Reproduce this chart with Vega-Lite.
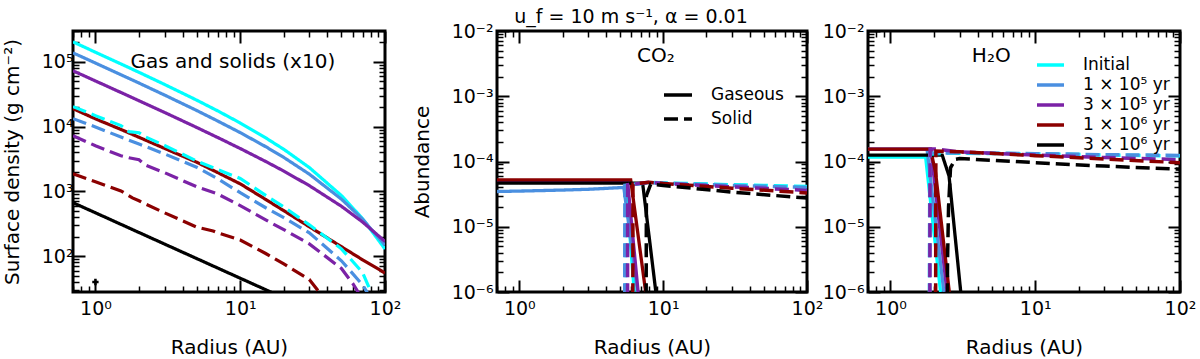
{
"$schema":"https://vega.github.io/schema/vega-lite/v6.json",
"padding":{"left":0,"top":6,"right":0,"bottom":0},
"background":"white",
"config":{
 "font":"DejaVu Sans",
 "view":{"stroke":"black","strokeWidth":3},
 "axis":{"domain":false,"grid":false,"tickColor":"black","labelFont":"DejaVu Sans","labelFontSize":19,"labelColor":"black","titleFont":"DejaVu Sans","titleFontSize":20,"titleFontWeight":"normal","titleColor":"black","labelFlush":false,"labelOverlap":false},
 "legend":{"labelFont":"DejaVu Sans","labelColor":"black"}
},
"datasets":{
"left":[
{"s":"Initial","p":"Gaseous","r":0.7,"v":204000},{"s":"Initial","p":"Gaseous","r":1,"v":141000},{"s":"Initial","p":"Gaseous","r":1.5,"v":93100},{"s":"Initial","p":"Gaseous","r":2,"v":69000},{"s":"Initial","p":"Gaseous","r":3,"v":44900},{"s":"Initial","p":"Gaseous","r":5,"v":25700},{"s":"Initial","p":"Gaseous","r":7,"v":17500},{"s":"Initial","p":"Gaseous","r":10,"v":11400},{"s":"Initial","p":"Gaseous","r":15,"v":6710},{"s":"Initial","p":"Gaseous","r":20,"v":4470},{"s":"Initial","p":"Gaseous","r":30,"v":2340},{"s":"Initial","p":"Gaseous","r":50,"v":863},{"s":"Initial","p":"Gaseous","r":70,"v":380},{"s":"Initial","p":"Gaseous","r":100,"v":129},
{"s":"1e5","p":"Gaseous","r":0.7,"v":138000},{"s":"1e5","p":"Gaseous","r":1,"v":95900},{"s":"1e5","p":"Gaseous","r":1.5,"v":63300},{"s":"1e5","p":"Gaseous","r":2,"v":47100},{"s":"1e5","p":"Gaseous","r":3,"v":30800},{"s":"1e5","p":"Gaseous","r":5,"v":17800},{"s":"1e5","p":"Gaseous","r":7,"v":12200},{"s":"1e5","p":"Gaseous","r":10,"v":8090},{"s":"1e5","p":"Gaseous","r":15,"v":4910},{"s":"1e5","p":"Gaseous","r":20,"v":3350},{"s":"1e5","p":"Gaseous","r":30,"v":1850},{"s":"1e5","p":"Gaseous","r":50,"v":760},{"s":"1e5","p":"Gaseous","r":70,"v":372},{"s":"1e5","p":"Gaseous","r":100,"v":148},
{"s":"3e5","p":"Gaseous","r":0.7,"v":72900},{"s":"3e5","p":"Gaseous","r":1,"v":50800},{"s":"3e5","p":"Gaseous","r":1.5,"v":33700},{"s":"3e5","p":"Gaseous","r":2,"v":25100},{"s":"3e5","p":"Gaseous","r":3,"v":16600},{"s":"3e5","p":"Gaseous","r":5,"v":9730},{"s":"3e5","p":"Gaseous","r":7,"v":6790},{"s":"3e5","p":"Gaseous","r":10,"v":4600},{"s":"3e5","p":"Gaseous","r":15,"v":2900},{"s":"3e5","p":"Gaseous","r":20,"v":2060},{"s":"3e5","p":"Gaseous","r":30,"v":1230},{"s":"3e5","p":"Gaseous","r":50,"v":590},{"s":"3e5","p":"Gaseous","r":70,"v":337},{"s":"3e5","p":"Gaseous","r":100,"v":169},
{"s":"1e6","p":"Gaseous","r":0.7,"v":19000},{"s":"1e6","p":"Gaseous","r":1,"v":13200},{"s":"1e6","p":"Gaseous","r":1.5,"v":9060},{"s":"1e6","p":"Gaseous","r":2,"v":6850},{"s":"1e6","p":"Gaseous","r":3,"v":4620},{"s":"1e6","p":"Gaseous","r":5,"v":2830},{"s":"1e6","p":"Gaseous","r":7,"v":1950},{"s":"1e6","p":"Gaseous","r":10,"v":1310},{"s":"1e6","p":"Gaseous","r":15,"v":752},{"s":"1e6","p":"Gaseous","r":20,"v":504},{"s":"1e6","p":"Gaseous","r":30,"v":285},{"s":"1e6","p":"Gaseous","r":50,"v":140},{"s":"1e6","p":"Gaseous","r":70,"v":88},{"s":"1e6","p":"Gaseous","r":100,"v":55},
{"s":"3e6","p":"Gaseous","r":0.7,"v":670},{"s":"3e6","p":"Gaseous","r":1,"v":468},{"s":"3e6","p":"Gaseous","r":2,"v":232},{"s":"3e6","p":"Gaseous","r":5,"v":92},{"s":"3e6","p":"Gaseous","r":10,"v":45.7},{"s":"3e6","p":"Gaseous","r":20,"v":22.7},{"s":"3e6","p":"Gaseous","r":50,"v":9},{"s":"3e6","p":"Gaseous","r":100,"v":4.5},
{"s":"Initial","p":"Solid","r":0.7,"v":20400},{"s":"Initial","p":"Solid","r":1,"v":14800},{"s":"Initial","p":"Solid","r":1.5,"v":10400},{"s":"Initial","p":"Solid","r":1.7,"v":8380},{"s":"Initial","p":"Solid","r":2,"v":8070},{"s":"Initial","p":"Solid","r":2.2,"v":7000},{"s":"Initial","p":"Solid","r":3,"v":5130},{"s":"Initial","p":"Solid","r":5,"v":2950},{"s":"Initial","p":"Solid","r":7,"v":2170},{"s":"Initial","p":"Solid","r":10,"v":1590},{"s":"Initial","p":"Solid","r":15,"v":870},{"s":"Initial","p":"Solid","r":20,"v":575},{"s":"Initial","p":"Solid","r":30,"v":305},{"s":"Initial","p":"Solid","r":50,"v":130},{"s":"Initial","p":"Solid","r":70,"v":56},{"s":"Initial","p":"Solid","r":80,"v":28},{"s":"Initial","p":"Solid","r":100,"v":5},
{"s":"1e5","p":"Solid","r":0.7,"v":13300},{"s":"1e5","p":"Solid","r":1,"v":9890},{"s":"1e5","p":"Solid","r":1.5,"v":6920},{"s":"1e5","p":"Solid","r":2,"v":5400},{"s":"1e5","p":"Solid","r":3,"v":3800},{"s":"1e5","p":"Solid","r":5,"v":2370},{"s":"1e5","p":"Solid","r":7,"v":1570},{"s":"1e5","p":"Solid","r":10,"v":955},{"s":"1e5","p":"Solid","r":15,"v":560},{"s":"1e5","p":"Solid","r":20,"v":393},{"s":"1e5","p":"Solid","r":30,"v":230},{"s":"1e5","p":"Solid","r":50,"v":85},{"s":"1e5","p":"Solid","r":70,"v":36},{"s":"1e5","p":"Solid","r":75,"v":28},{"s":"1e5","p":"Solid","r":100,"v":4},
{"s":"3e5","p":"Solid","r":0.7,"v":7240},{"s":"3e5","p":"Solid","r":1,"v":5080},{"s":"3e5","p":"Solid","r":1.5,"v":3550},{"s":"3e5","p":"Solid","r":1.7,"v":3310},{"s":"3e5","p":"Solid","r":2,"v":3090},{"s":"3e5","p":"Solid","r":2.2,"v":2570},{"s":"3e5","p":"Solid","r":3,"v":1950},{"s":"3e5","p":"Solid","r":5,"v":1180},{"s":"3e5","p":"Solid","r":7,"v":912},{"s":"3e5","p":"Solid","r":10,"v":603},{"s":"3e5","p":"Solid","r":15,"v":363},{"s":"3e5","p":"Solid","r":20,"v":257},{"s":"3e5","p":"Solid","r":30,"v":155},{"s":"3e5","p":"Solid","r":50,"v":64.6},{"s":"3e5","p":"Solid","r":60,"v":37.6},{"s":"3e5","p":"Solid","r":65,"v":28.2},{"s":"3e5","p":"Solid","r":100,"v":4},
{"s":"1e6","p":"Solid","r":0.7,"v":1880},{"s":"1e6","p":"Solid","r":1,"v":1410},{"s":"1e6","p":"Solid","r":1.5,"v":1020},{"s":"1e6","p":"Solid","r":1.8,"v":794},{"s":"1e6","p":"Solid","r":2,"v":718},{"s":"1e6","p":"Solid","r":2.2,"v":646},{"s":"1e6","p":"Solid","r":3,"v":468},{"s":"1e6","p":"Solid","r":5,"v":282},{"s":"1e6","p":"Solid","r":6.5,"v":245},{"s":"1e6","p":"Solid","r":7,"v":229},{"s":"1e6","p":"Solid","r":10,"v":178},{"s":"1e6","p":"Solid","r":15,"v":110},{"s":"1e6","p":"Solid","r":20,"v":75.9},{"s":"1e6","p":"Solid","r":30,"v":43.7},{"s":"1e6","p":"Solid","r":35,"v":28.2},{"s":"1e6","p":"Solid","r":100,"v":4}
],
"co2":[
{"s":"Initial","p":"Gaseous","r":0.7,"v":0.000048},{"s":"Initial","p":"Gaseous","r":5.5,"v":0.000048},{"s":"Initial","p":"Gaseous","r":6.3,"v":0.000001},
{"s":"1e5","p":"Gaseous","r":0.7,"v":0.0000347},{"s":"1e5","p":"Gaseous","r":1,"v":0.0000352},{"s":"1e5","p":"Gaseous","r":2,"v":0.0000365},{"s":"1e5","p":"Gaseous","r":3,"v":0.0000375},{"s":"1e5","p":"Gaseous","r":5.33,"v":0.00004},{"s":"1e5","p":"Gaseous","r":6.65,"v":0.000001},
{"s":"3e5","p":"Gaseous","r":0.7,"v":0.000051},{"s":"3e5","p":"Gaseous","r":5.65,"v":0.000051},{"s":"3e5","p":"Gaseous","r":6.7,"v":0.000001},
{"s":"1e6","p":"Gaseous","r":0.7,"v":0.0000524},{"s":"1e6","p":"Gaseous","r":5.95,"v":0.0000524},{"s":"1e6","p":"Gaseous","r":7.56,"v":0.000001},
{"s":"3e6","p":"Gaseous","r":0.7,"v":0.0000467},{"s":"3e6","p":"Gaseous","r":7.2,"v":0.0000467},{"s":"3e6","p":"Gaseous","r":8.9,"v":0.000001},
{"s":"Initial","p":"Solid","r":5.5,"v":0.0000001},{"s":"Initial","p":"Solid","r":5.52,"v":0.000043},{"s":"Initial","p":"Solid","r":7,"v":0.000046},{"s":"Initial","p":"Solid","r":8,"v":0.000048},{"s":"Initial","p":"Solid","r":10,"v":0.000047},{"s":"Initial","p":"Solid","r":30,"v":0.000044},{"s":"Initial","p":"Solid","r":100,"v":0.0000415},
{"s":"1e5","p":"Solid","r":5.4,"v":0.0000001},{"s":"1e5","p":"Solid","r":5.42,"v":0.000043},{"s":"1e5","p":"Solid","r":8,"v":0.0000475},{"s":"1e5","p":"Solid","r":10,"v":0.0000465},{"s":"1e5","p":"Solid","r":30,"v":0.000043},{"s":"1e5","p":"Solid","r":100,"v":0.00004},
{"s":"3e5","p":"Solid","r":5.65,"v":0.0000001},{"s":"3e5","p":"Solid","r":5.67,"v":0.000044},{"s":"3e5","p":"Solid","r":8,"v":0.000048},{"s":"3e5","p":"Solid","r":10,"v":0.000046},{"s":"3e5","p":"Solid","r":30,"v":0.000041},{"s":"3e5","p":"Solid","r":100,"v":0.000036},
{"s":"1e6","p":"Solid","r":6.15,"v":0.0000001},{"s":"1e6","p":"Solid","r":6.17,"v":0.000045},{"s":"1e6","p":"Solid","r":8,"v":0.000048},{"s":"1e6","p":"Solid","r":10,"v":0.000046},{"s":"1e6","p":"Solid","r":30,"v":0.000039},{"s":"1e6","p":"Solid","r":100,"v":0.000033},
{"s":"3e6","p":"Solid","r":7.6,"v":0.0000001},{"s":"3e6","p":"Solid","r":7.65,"v":0.00003},{"s":"3e6","p":"Solid","r":8.2,"v":0.000045},{"s":"3e6","p":"Solid","r":10,"v":0.000043},{"s":"3e6","p":"Solid","r":30,"v":0.000034},{"s":"3e6","p":"Solid","r":100,"v":0.0000275}
],
"h2o":[
{"s":"Initial","p":"Gaseous","r":0.7,"v":0.000117},{"s":"Initial","p":"Gaseous","r":1.75,"v":0.000117},{"s":"Initial","p":"Gaseous","r":2.22,"v":0.000001},
{"s":"1e5","p":"Gaseous","r":0.7,"v":0.000155},{"s":"1e5","p":"Gaseous","r":1.79,"v":0.000155},{"s":"1e5","p":"Gaseous","r":2.34,"v":0.000001},
{"s":"3e5","p":"Gaseous","r":0.7,"v":0.000155},{"s":"3e5","p":"Gaseous","r":1.9,"v":0.000155},{"s":"3e5","p":"Gaseous","r":2.46,"v":0.000001},
{"s":"1e6","p":"Gaseous","r":0.7,"v":0.000155},{"s":"1e6","p":"Gaseous","r":1.89,"v":0.000155},{"s":"1e6","p":"Gaseous","r":2.05,"v":0.000068},{"s":"1e6","p":"Gaseous","r":2.55,"v":0.000001},
{"s":"3e6","p":"Gaseous","r":0.7,"v":0.000125},{"s":"3e6","p":"Gaseous","r":2.28,"v":0.000125},{"s":"3e6","p":"Gaseous","r":2.54,"v":0.00006},{"s":"3e6","p":"Gaseous","r":3.06,"v":0.000001},
{"s":"Initial","p":"Solid","r":1.86,"v":0.0000001},{"s":"Initial","p":"Solid","r":1.87,"v":0.00013},{"s":"Initial","p":"Solid","r":2.5,"v":0.000135},{"s":"Initial","p":"Solid","r":3,"v":0.000134},{"s":"Initial","p":"Solid","r":10,"v":0.000131},{"s":"Initial","p":"Solid","r":30,"v":0.000126},{"s":"Initial","p":"Solid","r":100,"v":0.000122},
{"s":"1e5","p":"Solid","r":1.86,"v":0.0000001},{"s":"1e5","p":"Solid","r":1.87,"v":0.000135},{"s":"1e5","p":"Solid","r":3,"v":0.000136},{"s":"1e5","p":"Solid","r":10,"v":0.000132},{"s":"1e5","p":"Solid","r":30,"v":0.000127},{"s":"1e5","p":"Solid","r":100,"v":0.000124},
{"s":"3e5","p":"Solid","r":1.87,"v":0.0000001},{"s":"3e5","p":"Solid","r":1.88,"v":0.000155},{"s":"3e5","p":"Solid","r":2.1,"v":0.000155},{"s":"3e5","p":"Solid","r":3,"v":0.00014},{"s":"3e5","p":"Solid","r":10,"v":0.000126},{"s":"3e5","p":"Solid","r":30,"v":0.000115},{"s":"3e5","p":"Solid","r":100,"v":0.000107},
{"s":"1e6","p":"Solid","r":2.05,"v":0.0000001},{"s":"1e6","p":"Solid","r":2.06,"v":0.000144},{"s":"1e6","p":"Solid","r":3,"v":0.000141},{"s":"1e6","p":"Solid","r":10,"v":0.000123},{"s":"1e6","p":"Solid","r":30,"v":0.000109},{"s":"1e6","p":"Solid","r":100,"v":0.000096},
{"s":"3e6","p":"Solid","r":2.47,"v":0.0000001},{"s":"3e6","p":"Solid","r":2.48,"v":0.000003},{"s":"3e6","p":"Solid","r":2.52,"v":0.00002},{"s":"3e6","p":"Solid","r":2.6,"v":0.00008},{"s":"3e6","p":"Solid","r":2.8,"v":0.000108},{"s":"3e6","p":"Solid","r":3,"v":0.000111},{"s":"3e6","p":"Solid","r":10,"v":0.000096},{"s":"3e6","p":"Solid","r":30,"v":0.000085},{"s":"3e6","p":"Solid","r":100,"v":0.000076}
]
},
"bounds":"flush",
"spacing":0,
"resolve":{"scale":{"color":"independent","strokeDash":"independent"}},
"hconcat":[
{
 "width":312,"height":261,
 "data":{"name":"left"},
 "layer":[
  {"transform":[{"filter":"datum.p == 'Gaseous'"}],
   "mark":{"type":"line","strokeWidth":3.2,"clip":true},
   "encoding":{
    "x":{"field":"r","type":"quantitative","scale":{"type":"log","domain":[0.7,100],"nice":false},
     "axis":{"orient":"bottom","values":[0.7,0.8,0.9,1,2,3,4,5,6,7,8,9,10,20,30,40,50,60,70,80,90,100],
      "labelExpr":"datum.value == 1 ? '10⁰' : datum.value == 10 ? '10¹' : datum.value == 100 ? '10²' : ''",
      "title":"Radius (AU)","labelPadding":19,"titlePadding":13,
      "tickSize":{"condition":{"test":"datum.value == 1 || datum.value == 10 || datum.value == 100","value":-12},"value":-6},
      "tickWidth":{"condition":{"test":"datum.value == 1 || datum.value == 10 || datum.value == 100","value":2},"value":1.5}}},
    "y":{"field":"v","type":"quantitative","scale":{"type":"log","domain":[28,300000],"nice":false},
     "axis":{"orient":"left","values":[30,40,50,60,70,80,90,100,200,300,400,500,600,700,800,900,1000,2000,3000,4000,5000,6000,7000,8000,9000,10000,20000,30000,40000,50000,60000,70000,80000,90000,100000,200000,300000],
      "labelExpr":"datum.value == 100 ? '10²' : datum.value == 1000 ? '10³' : datum.value == 10000 ? '10⁴' : datum.value == 100000 ? '10⁵' : ''",
      "title":"Surface density (g cm⁻²)","labelPadding":12,"titlePadding":19,
      "tickSize":{"condition":{"test":"datum.value == 100 || datum.value == 1000 || datum.value == 10000 || datum.value == 100000","value":-12},"value":-6},
      "tickWidth":{"condition":{"test":"datum.value == 100 || datum.value == 1000 || datum.value == 10000 || datum.value == 100000","value":2},"value":1.5}}},
    "color":{"field":"s","type":"nominal","scale":{"domain":["Initial","1e5","3e5","1e6","3e6"],"range":["#00ffff","#4a8fe0","#7b22a6","#8b0000","#000000"]},"legend":null},
    "strokeDash":{"field":"p","type":"nominal","scale":{"domain":["Gaseous","Solid"],"range":[[1,0],[14,6]]},"legend":null}
   }},
  {"transform":[{"filter":"datum.p == 'Solid'"}],
   "mark":{"type":"line","strokeWidth":3.2,"clip":true},
   "encoding":{
    "x":{"field":"r","type":"quantitative","scale":{"type":"log","domain":[0.7,100],"nice":false},
     "axis":{"orient":"top","values":[0.7,0.8,0.9,1,2,3,4,5,6,7,8,9,10,20,30,40,50,60,70,80,90,100],"labels":false,"title":null,
      "tickSize":{"condition":{"test":"datum.value == 1 || datum.value == 10 || datum.value == 100","value":-12},"value":-6},
      "tickWidth":{"condition":{"test":"datum.value == 1 || datum.value == 10 || datum.value == 100","value":2},"value":1.5}}},
    "y":{"field":"v","type":"quantitative","scale":{"type":"log","domain":[28,300000],"nice":false},
     "axis":{"orient":"right","values":[30,40,50,60,70,80,90,100,200,300,400,500,600,700,800,900,1000,2000,3000,4000,5000,6000,7000,8000,9000,10000,20000,30000,40000,50000,60000,70000,80000,90000,100000,200000,300000],"labels":false,"title":null,
      "tickSize":{"condition":{"test":"datum.value == 100 || datum.value == 1000 || datum.value == 10000 || datum.value == 100000","value":-12},"value":-6},
      "tickWidth":{"condition":{"test":"datum.value == 100 || datum.value == 1000 || datum.value == 10000 || datum.value == 100000","value":2},"value":1.5}}},
    "color":{"field":"s","type":"nominal","scale":{"domain":["Initial","1e5","3e5","1e6","3e6"],"range":["#00ffff","#4a8fe0","#7b22a6","#8b0000","#000000"]},"legend":null},
    "strokeDash":{"field":"p","type":"nominal","scale":{"domain":["Gaseous","Solid"],"range":[[1,0],[14,6]]},"legend":null}
   }},
  {"data":{"values":[{"label":"Gas and solids (x10)"}]},
   "mark":{"type":"text","fontSize":20,"font":"DejaVu Sans","color":"black","baseline":"middle","align":"center"},
   "encoding":{"x":{"datum":8.9,"type":"quantitative","axis":null},"y":{"datum":100000,"type":"quantitative","axis":null},"text":{"field":"label"}}},
  {"data":{"values":[{"r":1,"v":40}]},
   "mark":{"type":"point","shape":"cross","filled":true,"color":"black","size":40,"opacity":1},
   "encoding":{"x":{"field":"r","type":"quantitative","axis":null},"y":{"field":"v","type":"quantitative","axis":null}}}
 ],
 "resolve":{"axis":{"x":"independent","y":"independent"}}
},
{"width":112,"height":261,"data":{"values":[]},"mark":"point","view":{"stroke":null}},
{
 "width":310,"height":261,
 "data":{"name":"co2"},
 "title":{"text":"u_f = 10 m s⁻¹, α = 0.01","fontSize":19,"fontWeight":"normal","font":"DejaVu Sans","color":"black","anchor":"middle","dx":-21,"offset":-5},
 "layer":[
  {"transform":[{"filter":"datum.p == 'Gaseous'"}],
   "mark":{"type":"line","strokeWidth":3.3,"clip":true},
   "encoding":{
    "x":{"field":"r","type":"quantitative","scale":{"type":"log","domain":[0.7,100],"nice":false},
     "axis":{"orient":"bottom","values":[0.7,0.8,0.9,1,2,3,4,5,6,7,8,9,10,20,30,40,50,60,70,80,90,100],
      "labelExpr":"datum.value == 1 ? '10⁰' : datum.value == 10 ? '10¹' : datum.value == 100 ? '10²' : ''",
      "title":"Radius (AU)","labelPadding":19,"titlePadding":13,
      "tickSize":{"condition":{"test":"datum.value == 1 || datum.value == 10 || datum.value == 100","value":-12},"value":-6},
      "tickWidth":{"condition":{"test":"datum.value == 1 || datum.value == 10 || datum.value == 100","value":2},"value":1.5}}},
    "y":{"field":"v","type":"quantitative","scale":{"type":"log","domain":[0.000001,0.01],"nice":false},
     "axis":{"orient":"left","values":[0.000001,0.000002,0.000003,0.000004,0.000005,0.000006,0.000007,0.000008,0.000009,0.00001,0.00002,0.00003,0.00004,0.00005,0.00006,0.00007,0.00008,0.00009,0.0001,0.0002,0.0003,0.0004,0.0005,0.0006,0.0007,0.0008,0.0009,0.001,0.002,0.003,0.004,0.005,0.006,0.007,0.008,0.009,0.01],
      "labelExpr":"datum.value == 0.01 ? '10⁻²' : datum.value == 0.001 ? '10⁻³' : datum.value == 0.0001 ? '10⁻⁴' : datum.value == 0.00001 ? '10⁻⁵' : datum.value == 0.000001 ? '10⁻⁶' : ''",
      "title":"Abundance","labelPadding":16,"titlePadding":19,
      "tickSize":{"condition":{"test":"datum.value == 0.01 || datum.value == 0.001 || datum.value == 0.0001 || datum.value == 0.00001 || datum.value == 0.000001","value":-12},"value":-6},
      "tickWidth":{"condition":{"test":"datum.value == 0.01 || datum.value == 0.001 || datum.value == 0.0001 || datum.value == 0.00001 || datum.value == 0.000001","value":2},"value":1.5}}},
    "color":{"field":"s","type":"nominal","scale":{"domain":["Initial","1e5","3e5","1e6","3e6"],"range":["#00ffff","#4a8fe0","#7b22a6","#8b0000","#000000"]},"legend":null},
    "strokeDash":{"field":"p","type":"nominal","scale":{"domain":["Gaseous","Solid"],"range":[[1,0],[14,6]]},
     "legend":{"orient":"none","legendX":165,"legendY":48,"title":null,"symbolStrokeColor":"black","symbolType":"stroke","symbolSize":784,"symbolStrokeWidth":3.5,"labelFontSize":17,"labelOffset":17,"rowPadding":0,"padding":0}}
   }},
  {"transform":[{"filter":"datum.p == 'Solid'"}],
   "mark":{"type":"line","strokeWidth":3.5,"clip":true},
   "encoding":{
    "x":{"field":"r","type":"quantitative","scale":{"type":"log","domain":[0.7,100],"nice":false},
     "axis":{"orient":"top","values":[0.7,0.8,0.9,1,2,3,4,5,6,7,8,9,10,20,30,40,50,60,70,80,90,100],"labels":false,"title":null,
      "tickSize":{"condition":{"test":"datum.value == 1 || datum.value == 10 || datum.value == 100","value":-12},"value":-6},
      "tickWidth":{"condition":{"test":"datum.value == 1 || datum.value == 10 || datum.value == 100","value":2},"value":1.5}}},
    "y":{"field":"v","type":"quantitative","scale":{"type":"log","domain":[0.000001,0.01],"nice":false},
     "axis":{"orient":"right","values":[0.000001,0.000002,0.000003,0.000004,0.000005,0.000006,0.000007,0.000008,0.000009,0.00001,0.00002,0.00003,0.00004,0.00005,0.00006,0.00007,0.00008,0.00009,0.0001,0.0002,0.0003,0.0004,0.0005,0.0006,0.0007,0.0008,0.0009,0.001,0.002,0.003,0.004,0.005,0.006,0.007,0.008,0.009,0.01],"labels":false,"title":null,
      "tickSize":{"condition":{"test":"datum.value == 0.01 || datum.value == 0.001 || datum.value == 0.0001 || datum.value == 0.00001 || datum.value == 0.000001","value":-12},"value":-6},
      "tickWidth":{"condition":{"test":"datum.value == 0.01 || datum.value == 0.001 || datum.value == 0.0001 || datum.value == 0.00001 || datum.value == 0.000001","value":2},"value":1.5}}},
    "color":{"field":"s","type":"nominal","scale":{"domain":["Initial","1e5","3e5","1e6","3e6"],"range":["#00ffff","#4a8fe0","#7b22a6","#8b0000","#000000"]},"legend":null},
    "strokeDash":{"field":"p","type":"nominal","scale":{"domain":["Gaseous","Solid"],"range":[[1,0],[14,6]]},
     "legend":{"orient":"none","legendX":165,"legendY":48,"title":null,"symbolStrokeColor":"black","symbolType":"stroke","symbolSize":784,"symbolStrokeWidth":3.5,"labelFontSize":17,"labelOffset":17,"rowPadding":0,"padding":0}}
   }},
  {"data":{"values":[{"label":"CO₂"}]},
   "mark":{"type":"text","fontSize":20,"font":"DejaVu Sans","color":"black","baseline":"middle","align":"center"},
   "encoding":{"x":{"datum":8.9,"type":"quantitative","axis":null},"y":{"datum":0.0041,"type":"quantitative","axis":null},"text":{"field":"label"}}}
 ],
 "resolve":{"axis":{"x":"independent","y":"independent"}}
},
{"width":61,"height":261,"data":{"values":[]},"mark":"point","view":{"stroke":null}},
{
 "width":312,"height":261,
 "data":{"name":"h2o"},
 "layer":[
  {"transform":[{"filter":"datum.p == 'Gaseous'"}],
   "mark":{"type":"line","strokeWidth":3.3,"clip":true},
   "encoding":{
    "x":{"field":"r","type":"quantitative","scale":{"type":"log","domain":[0.7,100],"nice":false},
     "axis":{"orient":"bottom","values":[0.7,0.8,0.9,1,2,3,4,5,6,7,8,9,10,20,30,40,50,60,70,80,90,100],
      "labelExpr":"datum.value == 1 ? '10⁰' : datum.value == 10 ? '10¹' : datum.value == 100 ? '10²' : ''",
      "title":"Radius (AU)","labelPadding":19,"titlePadding":13,
      "tickSize":{"condition":{"test":"datum.value == 1 || datum.value == 10 || datum.value == 100","value":-12},"value":-6},
      "tickWidth":{"condition":{"test":"datum.value == 1 || datum.value == 10 || datum.value == 100","value":2},"value":1.5}}},
    "y":{"field":"v","type":"quantitative","scale":{"type":"log","domain":[0.000001,0.01],"nice":false},
     "axis":{"orient":"left","values":[0.000001,0.000002,0.000003,0.000004,0.000005,0.000006,0.000007,0.000008,0.000009,0.00001,0.00002,0.00003,0.00004,0.00005,0.00006,0.00007,0.00008,0.00009,0.0001,0.0002,0.0003,0.0004,0.0005,0.0006,0.0007,0.0008,0.0009,0.001,0.002,0.003,0.004,0.005,0.006,0.007,0.008,0.009,0.01],
      "labelExpr":"datum.value == 0.01 ? '10⁻²' : datum.value == 0.001 ? '10⁻³' : datum.value == 0.0001 ? '10⁻⁴' : datum.value == 0.00001 ? '10⁻⁵' : datum.value == 0.000001 ? '10⁻⁶' : ''",
      "title":null,"labelPadding":16,
      "tickSize":{"condition":{"test":"datum.value == 0.01 || datum.value == 0.001 || datum.value == 0.0001 || datum.value == 0.00001 || datum.value == 0.000001","value":-12},"value":-6},
      "tickWidth":{"condition":{"test":"datum.value == 0.01 || datum.value == 0.001 || datum.value == 0.0001 || datum.value == 0.00001 || datum.value == 0.000001","value":2},"value":1.5}}},
    "color":{"field":"s","type":"nominal","scale":{"domain":["Initial","1e5","3e5","1e6","3e6"],"range":["#00ffff","#4a8fe0","#7b22a6","#8b0000","#000000"]},
     "legend":{"orient":"none","legendX":167,"legendY":24,"title":null,"symbolType":"stroke","symbolSize":729,"symbolStrokeWidth":3.5,"labelFontSize":17,"labelOffset":17,"rowPadding":0,"clipHeight":20,"padding":0,
      "labelExpr":"datum.label == '1e5' ? '1 × 10⁵ yr' : datum.label == '3e5' ? '3 × 10⁵ yr' : datum.label == '1e6' ? '1 × 10⁶ yr' : datum.label == '3e6' ? '3 × 10⁶ yr' : datum.label"}},
    "strokeDash":{"field":"p","type":"nominal","scale":{"domain":["Gaseous","Solid"],"range":[[1,0],[14,6]]},"legend":null}
   }},
  {"transform":[{"filter":"datum.p == 'Solid'"}],
   "mark":{"type":"line","strokeWidth":3.5,"clip":true},
   "encoding":{
    "x":{"field":"r","type":"quantitative","scale":{"type":"log","domain":[0.7,100],"nice":false},
     "axis":{"orient":"top","values":[0.7,0.8,0.9,1,2,3,4,5,6,7,8,9,10,20,30,40,50,60,70,80,90,100],"labels":false,"title":null,
      "tickSize":{"condition":{"test":"datum.value == 1 || datum.value == 10 || datum.value == 100","value":-12},"value":-6},
      "tickWidth":{"condition":{"test":"datum.value == 1 || datum.value == 10 || datum.value == 100","value":2},"value":1.5}}},
    "y":{"field":"v","type":"quantitative","scale":{"type":"log","domain":[0.000001,0.01],"nice":false},
     "axis":{"orient":"right","values":[0.000001,0.000002,0.000003,0.000004,0.000005,0.000006,0.000007,0.000008,0.000009,0.00001,0.00002,0.00003,0.00004,0.00005,0.00006,0.00007,0.00008,0.00009,0.0001,0.0002,0.0003,0.0004,0.0005,0.0006,0.0007,0.0008,0.0009,0.001,0.002,0.003,0.004,0.005,0.006,0.007,0.008,0.009,0.01],"labels":false,"title":null,
      "tickSize":{"condition":{"test":"datum.value == 0.01 || datum.value == 0.001 || datum.value == 0.0001 || datum.value == 0.00001 || datum.value == 0.000001","value":-12},"value":-6},
      "tickWidth":{"condition":{"test":"datum.value == 0.01 || datum.value == 0.001 || datum.value == 0.0001 || datum.value == 0.00001 || datum.value == 0.000001","value":2},"value":1.5}}},
    "color":{"field":"s","type":"nominal","scale":{"domain":["Initial","1e5","3e5","1e6","3e6"],"range":["#00ffff","#4a8fe0","#7b22a6","#8b0000","#000000"]},
     "legend":{"orient":"none","legendX":167,"legendY":24,"title":null,"symbolType":"stroke","symbolSize":729,"symbolStrokeWidth":3.5,"labelFontSize":17,"labelOffset":17,"rowPadding":0,"clipHeight":20,"padding":0,
      "labelExpr":"datum.label == '1e5' ? '1 × 10⁵ yr' : datum.label == '3e5' ? '3 × 10⁵ yr' : datum.label == '1e6' ? '1 × 10⁶ yr' : datum.label == '3e6' ? '3 × 10⁶ yr' : datum.label"}},
    "strokeDash":{"field":"p","type":"nominal","scale":{"domain":["Gaseous","Solid"],"range":[[1,0],[14,6]]},"legend":null}
   }},
  {"data":{"values":[{"label":"H₂O"}]},
   "mark":{"type":"text","fontSize":20,"font":"DejaVu Sans","color":"black","baseline":"middle","align":"center"},
   "encoding":{"x":{"datum":4.97,"type":"quantitative","axis":null},"y":{"datum":0.0041,"type":"quantitative","axis":null},"text":{"field":"label"}}}
 ],
 "resolve":{"axis":{"x":"independent","y":"independent"}}
}
]
}
